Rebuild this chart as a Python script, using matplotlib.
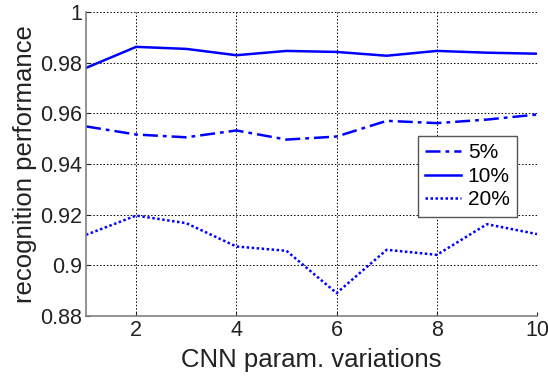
import matplotlib
matplotlib.use("Agg")
import matplotlib.pyplot as plt

plt.rcParams['font.family'] = ['Liberation Sans', 'DejaVu Sans']

x = [1, 2, 3, 4, 5, 6, 7, 8, 9, 10]
p5 = [0.9549, 0.9517, 0.9506, 0.9533, 0.9497, 0.9509, 0.9571, 0.9562, 0.9576, 0.9596]
p10 = [0.9780, 0.9863, 0.9855, 0.9830, 0.9847, 0.9843, 0.9828, 0.9847, 0.9840, 0.9836]
p20 = [0.9121, 0.9197, 0.9167, 0.9075, 0.9058, 0.8891, 0.9062, 0.9042, 0.9163, 0.9124]
labels = ['5%', '10%', '20%']

fig = plt.figure(figsize=(5.48, 3.8), dpi=100)
ax = fig.add_axes([0.157, 0.168, 0.823, 0.800])

ax.plot(x, p5, color='#0000ff', lw=1.8, linestyle=(0, (6, 2, 1.5, 2)), label=labels[0])
ax.plot(x, p10, color='#0000ff', lw=1.8, linestyle='-', label=labels[1])
ax.plot(x, p20, color='#0000ff', lw=1.8, linestyle=(0, (1, 1)), label=labels[2])

ax.set_xlim(1, 10)
ax.set_ylim(0.88, 1.0)
ax.set_xticks([2, 4, 6, 8, 10])
ax.set_yticks([0.88, 0.9, 0.92, 0.94, 0.96, 0.98, 1.0])
ax.set_yticklabels(['0.88', '0.9', '0.92', '0.94', '0.96', '0.98', '1'])
ax.tick_params(direction='in', length=3, labelsize=15.5, colors='#222222', pad=3)
ax.grid(True, color='black', linestyle=(0, (1.5, 2)), linewidth=0.7)
for s in ['top', 'right']:
    ax.spines[s].set_visible(False)
for s in ['left', 'bottom']:
    ax.spines[s].set_color('#808080')
    ax.spines[s].set_linewidth(1.2)

ax.set_xlabel('CNN param. variations', fontsize=18.5, color='#222222', labelpad=5)
ax.set_ylabel('recognition performance', fontsize=18.5, color='#222222', labelpad=2)

leg = ax.legend(loc='upper right', bbox_to_anchor=(517 / 548, 1 - 136 / 380),
                bbox_transform=fig.transFigure, fontsize=15,
                fancybox=False, edgecolor='#555555', framealpha=1,
                handlelength=1.75, borderpad=0.35, labelspacing=0.22,
                handletextpad=0.3, borderaxespad=0)
leg.get_frame().set_linewidth(1.0)

fig.savefig('out.png', dpi=100)
